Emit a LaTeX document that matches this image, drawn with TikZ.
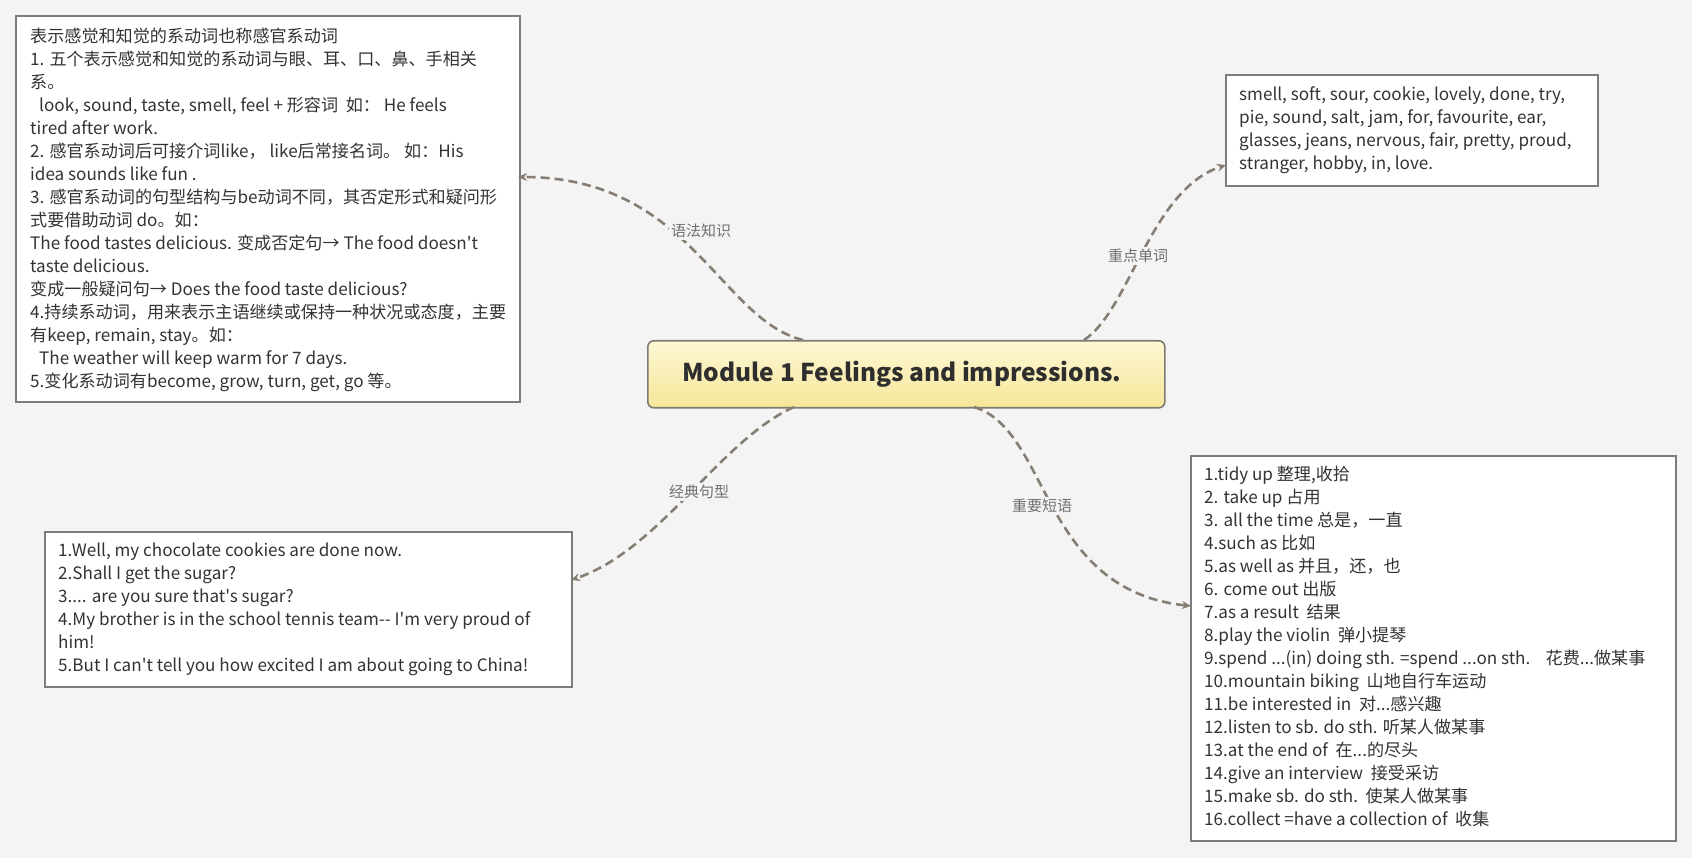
\documentclass[tikz,border=0pt]{standalone}
\usepackage{fontspec}
\setmainfont{Noto Sans CJK SC}[Ligatures=TeXOff]
\usetikzlibrary{arrows.meta}
\definecolor{bgc}{HTML}{F4F4F4}
\definecolor{boxline}{HTML}{7C7C7C}
\definecolor{conncol}{HTML}{877E73}
\definecolor{txt}{HTML}{333333}
\definecolor{lbl}{HTML}{707070}
\definecolor{titletop}{HTML}{FDF8D4}
\definecolor{titlebot}{HTML}{F6E699}
\definecolor{titleline}{HTML}{7F7A70}
\begin{document}
\begin{tikzpicture}[x=1pt,y=-1pt,
  textbox/.style={draw=boxline,line width=2pt,fill=white,anchor=north west,inner sep=0pt},
  boxtext/.style={anchor=north west,inner sep=0pt,align=left,text=txt,font=\fontsize{17.1}{23}\selectfont},
  conn/.style={draw=conncol,line width=2.6pt,dash pattern=on 9pt off 5pt,-{Stealth[length=9pt,width=8pt]}},
  conlabel/.style={fill=bgc,inner sep=2pt,text=lbl,font=\fontsize{15}{17}\selectfont}]
\useasboundingbox (0,0) rectangle (1692,858);
\fill[bgc] (0,0) rectangle (1692,858);

% central topic
\node[draw=titleline,line width=1.6pt,rounded corners=6pt,top color=titletop,bottom color=titlebot,
      minimum width=517pt,minimum height=67pt,anchor=north west,inner sep=0pt] (center) at (647,340) {};
\node[text=txt!90!black,font=\fontsize{24.5}{28}\selectfont\bfseries,inner sep=0pt] (title) at (902,374) {Module 1 Feelings and impressions.};

% boxes
\node[textbox,minimum width=504pt,minimum height=386pt] (gbox) at (15,15) {};
\node[textbox,minimum width=372pt,minimum height=111pt] (wbox) at (1225,74) {};
\node[textbox,minimum width=527pt,minimum height=155pt] (sbox) at (44,531) {};
\node[textbox,minimum width=485pt,minimum height=385pt] (pbox) at (1190,455) {};

\node[boxtext] (gtext) at (30,28) {表示感觉和知觉的系动词也称感官系动词\\
1. 五个表示感觉和知觉的系动词与眼、耳、口、鼻、手相关\\
系。\\
\hspace*{9pt}look, sound, taste, smell, feel + 形容词\ \ 如： He feels\\
tired after work.\\
2. 感官系动词后可接介词like， like后常接名词。 如：His\\
idea sounds like fun .\\
3. 感官系动词的句型结构与be动词不同，其否定形式和疑问形\\
式要借助动词 do。如：\\
The food tastes delicious. 变成否定句→ The food doesn't\\
taste delicious.\\
变成一般疑问句→ Does the food taste delicious?\\
4.持续系动词，用来表示主语继续或保持一种状况或态度，主要\\
有keep, remain, stay。如：\\
\hspace*{9pt}The weather will keep warm for 7 days.\\
5.变化系动词有become, grow, turn, get, go 等。};

\node[boxtext] (wtext) at (1239,86) {smell, soft, sour, cookie, lovely, done, try,\\
pie, sound, salt, jam, for, favourite, ear,\\
glasses, jeans, nervous, fair, pretty, proud,\\
stranger, hobby, in, love.};

\node[boxtext] (stext) at (58,543) {1.Well, my chocolate cookies are done now.\\
2.Shall I get the sugar?\\
3.... are you sure that's sugar?\\
4.My brother is in the school tennis team-- I'm very proud of\\
him!\\
5.But I can't tell you how excited I am about going to China!};

\node[boxtext] (ptext) at (1204,466) {1.tidy up 整理,收拾\\
2. take up 占用\\
3. all the time 总是，一直\\
4.such as 比如\\
5.as well as 并且，还，也\\
6. come out 出版\\
7.as a result\ \ 结果\\
8.play the violin\ \ 弹小提琴\\
9.spend ...(in) doing sth. =spend ...on sth.\ \ \ \ 花费...做某事\\
10.mountain biking\ \ 山地自行车运动\\
11.be interested in\ \ 对...感兴趣\\
12.listen to sb. do sth. 听某人做某事\\
13.at the end of\ \ 在...的尽头\\
14.give an interview\ \ 接受采访\\
15.make sb. do sth.\ \ 使某人做某事\\
16.collect =have a collection of\ \ 收集};

% connector end points
\coordinate (s1) at (803,340);
\coordinate (s2) at (1084,340);
\coordinate (s3) at (794,407);
\coordinate (s4) at (974,407);
\coordinate (e1) at (518,177);
\coordinate (e2) at (1226,165);
\coordinate (e3) at (571,580);
\coordinate (e4) at (1191,606);

\draw[conn] (s1) .. controls (720,320) and (690,177) .. (e1);
\draw[conn] (s2) .. controls (1130,310) and (1150,190) .. (e2);
\draw[conn] (s3) .. controls (720,440) and (660,550) .. (e3);
\draw[conn] (s4) .. controls (1050,430) and (1040,590) .. (e4);

\node[conlabel] (l1) at (701,231) {语法知识};
\node[conlabel] (l2) at (1138,256) {重点单词};
\node[conlabel] (l3) at (699,492) {经典句型};
\node[conlabel] (l4) at (1042,506) {重要短语};
\end{tikzpicture}
\end{document}
